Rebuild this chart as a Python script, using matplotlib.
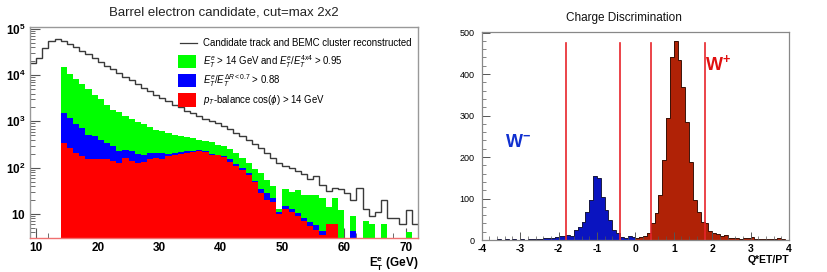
import numpy as np
import matplotlib
matplotlib.use("Agg")
import matplotlib.pyplot as plt
from matplotlib.patches import Rectangle
from matplotlib.lines import Line2D
from matplotlib.ticker import FixedLocator, MultipleLocator, LogLocator, NullFormatter

plt.rcParams['font.family'] = ['Liberation Sans', 'DejaVu Sans']
plt.rcParams['mathtext.fontset'] = 'custom'
plt.rcParams['mathtext.rm'] = 'Liberation Sans'
plt.rcParams['mathtext.it'] = 'Liberation Sans:italic'
plt.rcParams['mathtext.bf'] = 'Liberation Sans:bold'

# ---------------- Left panel data (1 GeV bins, 9..72) ----------------
et_edges = np.arange(9, 73, 1)
et_all = [18400, 23400, 39000, 56000, 62000, 54000, 47000, 40000, 34000, 28000,
          24000, 19500, 16000, 13300, 11000, 9200, 7700, 6400, 5300, 4500,
          3800, 3200, 2700, 2300, 2000, 1700, 1500, 1300, 1150, 1000,
          930, 800, 670, 570, 480, 400, 330, 270, 210, 160,
          125, 107, 100, 85, 72, 57, 65, 42, 31, 36,
          34, 28, 20, 36, 13, 9, 11, 20, 8, 8,
          6, 12, 6]
et_green = [0, 0, 0, 0, 0, 15000, 10800, 8300, 6300, 4900,
            3700, 3000, 2300, 1800, 1600, 1300, 1100, 980, 860, 750,
            660, 610, 565, 520, 480, 460, 440, 400, 375, 357,
            315, 290, 255, 210, 163, 127, 91, 78, 55, 40,
            13, 35, 30, 32, 26, 25, 25, 22, 14, 22,
            12, 0, 9, 0, 7, 6, 0, 6, 0, 0,
            0, 4, 0]
et_blue = [0, 0, 0, 0, 0, 1500, 1200, 860, 720, 520,
           480, 400, 345, 290, 225, 245, 225, 200, 190, 210,
           210, 210, 200, 210, 215, 225, 225, 235, 225, 200,
           190, 175, 150, 117, 100, 78, 51, 34, 28, 22,
           11, 15, 13, 10.5, 8, 6.6, 5.6, 4.3, 6, 0,
           0, 0, 4.3, 0, 0, 0, 0, 0, 0, 0,
           0, 0, 0]
et_red = [0, 0, 0, 0, 0, 340, 270, 210, 178, 155,
          155, 155, 150, 138, 127, 163, 138, 127, 130, 155,
          163, 155, 178, 190, 200, 210, 215, 225, 215, 190,
          185, 170, 130, 107, 88, 70, 48, 28, 20, 18,
          10, 13, 11, 9, 7, 5.5, 4.5, 3.5, 6, 6,
          0, 0, 0, 0, 0, 0, 0, 0, 0, 0,
          0, 0, 0]
left_xticks = [10, 20, 30, 40, 50, 60, 70]
left_yticks = [10, 100, 1000, 10000, 100000]
left_yticklabels = [r'$\mathbf{10}$', r'$\mathbf{10^{2}}$', r'$\mathbf{10^{3}}$',
                    r'$\mathbf{10^{4}}$', r'$\mathbf{10^{5}}$']
legend_labels = ['Candidate track and BEMC cluster reconstructed',
                 r'$E_T^e$ > 14 GeV and $E_T^e/E_T^{4x4}$ > 0.95',
                 r'$E_T^e/E_T^{\Delta R<0.7}$ > 0.88',
                 r'$p_T$-balance cos($\phi$) > 14 GeV']

# ---------------- Right panel data (0.1 bins, -4..4) ----------------
q_edges = np.round(np.arange(-4.0, 4.0001, 0.1), 2)
q_blue = [0, 0, 0, 1, 2, 1, 2, 1, 2, 1,
          2, 1, 2, 3, 2, 3, 5, 6, 5, 8,
          10, 9, 12, 10, 24, 32, 44, 68, 96, 155,
          150, 104, 72, 48, 24, 16, 8, 5, 10, 8,
          0, 0, 0, 0, 0, 0, 0, 0, 0, 0,
          0, 0, 0, 0, 0, 0, 0, 0, 0, 0,
          0, 0, 0, 0, 0, 0, 0, 0, 0, 0,
          0, 0, 0, 0, 0, 0, 0, 0, 0, 0]
q_red = [0, 0, 0, 0, 0, 0, 0, 0, 0, 0,
         0, 0, 0, 0, 0, 0, 0, 0, 0, 0,
         0, 0, 0, 0, 0, 0, 0, 0, 0, 0,
         0, 0, 0, 0, 0, 0, 0, 0, 0, 0,
         5, 8, 10, 18, 42, 65, 108, 193, 293, 441,
         479, 433, 369, 285, 189, 96, 68, 44, 40, 22,
         18, 15, 10, 12, 4, 6, 5, 3, 4, 6,
         8, 3, 2, 2, 3, 2, 2, 4, 2, 0]
cut_lines = [-1.8, -0.4, 0.4, 1.8]
right_xticks = [-4, -3, -2, -1, 0, 1, 2, 3, 4]
right_yticks = [0, 100, 200, 300, 400, 500]

# ---------------- Figure ----------------
fig = plt.figure(figsize=(8.28, 2.72), dpi=100)
fig.patch.set_facecolor('white')

# Left axes
ax = fig.add_axes([0.0362, 0.125, 0.4686, 0.7757])
ax.set_yscale('log')
ax.set_xlim(9, 72)
ax.set_ylim(3, 1.1e5)
ax.set_axisbelow(True)

def pos(v):
    v = np.asarray(v, dtype=float)
    return np.where(v > 0, v, 1e-3)

ax.stairs(pos(et_green), et_edges, fill=True, color='#00ff00', baseline=1e-3, lw=0)
ax.stairs(pos(et_blue), et_edges, fill=True, color='#0000ff', baseline=1e-3, lw=0)
ax.stairs(pos(et_red), et_edges, fill=True, color='#ff0000', baseline=1e-3, lw=0)
ax.stairs(et_all, et_edges, baseline=None, color='#3a3a3a', lw=1.0)

ax.set_xticks(left_xticks)
ax.set_xticklabels([str(t) for t in left_xticks], fontweight='bold', fontsize=8.5)
ax.xaxis.set_minor_locator(MultipleLocator(2))
ax.yaxis.set_major_locator(FixedLocator(left_yticks))
ax.set_yticklabels(left_yticklabels, fontsize=8.5)
ax.yaxis.set_minor_locator(LogLocator(base=10, subs=np.arange(2, 10)))
ax.yaxis.set_minor_formatter(NullFormatter())
ax.tick_params(axis='both', which='major', direction='in', length=7, width=0.8,
               color='#555555', pad=3)
ax.tick_params(axis='both', which='minor', direction='in', length=3.5, width=0.6,
               color='#555555')
ax.tick_params(axis='x', pad=3)
for s in ['left', 'right', 'top']:
    ax.spines[s].set_color('#999999')
    ax.spines[s].set_linewidth(1.0)
ax.spines['bottom'].set_color('#f07070')
ax.spines['bottom'].set_linewidth(1.0)

ax.text(1.0, -0.127, r'$\mathbf{E_T^e}$ (GeV)', transform=ax.transAxes,
        ha='right', va='center', fontsize=8.5, fontweight='bold')
fig.text(0.27, 0.955, 'Barrel electron candidate, cut=max 2x2', ha='center',
         va='center', fontsize=9.5, color='#222222')

# Legend (manual, axes fraction)
tr = ax.transAxes
ax.add_line(Line2D([0.387, 0.431], [0.926, 0.926], transform=tr, color='#3a3a3a', lw=0.9))
ax.text(0.445, 0.926, legend_labels[0], transform=tr, fontsize=6.9, va='center', ha='left')
legend_colors = ['#00ff00', '#0000ff', '#ff0000']
legend_y = [0.836, 0.746, 0.654]
for c, yy, lab in zip(legend_colors, legend_y, legend_labels[1:]):
    ax.add_patch(Rectangle((0.381, yy - 0.031), 0.047, 0.062, transform=tr,
                           facecolor=c, edgecolor='none'))
    ax.text(0.445, yy, lab, transform=tr, fontsize=6.9, va='center', ha='left')

# Right axes
ax2 = fig.add_axes([0.5818, 0.1176, 0.3711, 0.7658])
ax2.set_xlim(-4, 4)
ax2.set_ylim(0, 502)
ax2.stairs(q_blue, q_edges, fill=True, color='#0a14c0', lw=0)
ax2.stairs(q_blue, q_edges, color='#1a1a40', lw=0.7)
ax2.stairs(q_red, q_edges, fill=True, color='#b02206', lw=0)
ax2.stairs(q_red, q_edges, color='#3a1208', lw=0.7)
for xv in cut_lines:
    ax2.plot([xv, xv], [0, 475], color='#e8242a', lw=1.2)

ax2.set_xticks(right_xticks)
ax2.set_xticklabels([str(t) for t in right_xticks], fontweight='bold', fontsize=7.5)
ax2.xaxis.set_minor_locator(MultipleLocator(0.2))
ax2.set_yticks(right_yticks)
ax2.set_yticklabels([str(t) for t in right_yticks], fontsize=6.5)
ax2.yaxis.set_minor_locator(MultipleLocator(20))
ax2.tick_params(axis='both', which='major', direction='in', length=6, width=0.7,
                color='#555555')
ax2.tick_params(axis='y', pad=5)
ax2.tick_params(axis='x', pad=3)
ax2.tick_params(axis='both', which='minor', direction='in', length=3, width=0.5,
                color='#555555')
for s in ax2.spines.values():
    s.set_color('#888888')
    s.set_linewidth(0.9)
ax2.text(1.0, -0.095, 'Q*ET/PT', transform=ax2.transAxes, ha='right', va='center',
         fontsize=7.5, fontweight='bold')
fig.text(0.754, 0.934, 'Charge Discrimination', ha='center', va='center',
         fontsize=8.5, color='#111111')
ax2.text(-3.4, 225, r'W$^{\mathbf{-}}$', color='#1030d0', fontsize=13,
         fontweight='bold', ha='left', va='baseline')
ax2.text(1.82, 410, r'W$^{\mathbf{+}}$', color='#e01010', fontsize=13,
         fontweight='bold', ha='left', va='baseline')

fig.savefig('out.png', dpi=100)
